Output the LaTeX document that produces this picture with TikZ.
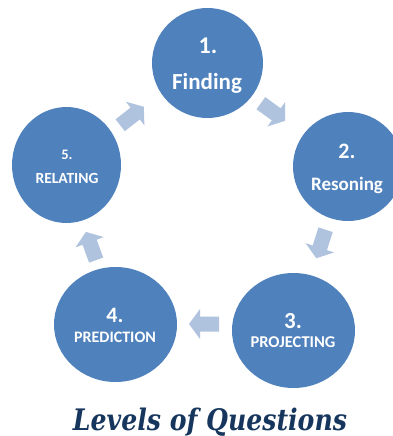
\documentclass[tikz,border=0pt]{standalone}
\usepackage{fontspec}
\setmainfont{Carlito}
\newfontfamily\titlefont{DejaVu Serif}
\usetikzlibrary{shapes.geometric,calc}
\definecolor{circblue}{HTML}{4F81BD}
\definecolor{arrblue}{HTML}{B0C3DE}
\definecolor{titleblue}{HTML}{17365D}
\tikzset{
  stage/.style={ellipse, fill=circblue, draw=none, inner sep=0pt},
  lbl/.style={text=white, font=\bfseries, anchor=base, inner sep=0pt},
}
\newcommand\blockarrow[3]{%
  \fill[arrblue, shift={(#1)}, rotate=#2] (-15,-7.5) -- (4,-7.5) -- (4,-15) -- (15,0) -- (4,15) -- (4,7.5) -- (-15,7.5) -- cycle;
  \coordinate (#3) at (#1);}
\begin{document}
\begin{tikzpicture}[x=1pt,y=-1pt]
\useasboundingbox (0,0) rectangle (393,436);
\begin{scope}
\clip (0,0) rectangle (393,436);
\node[stage, minimum width=111pt, minimum height=110pt] (c1) at (207.5,63) {};
\node[stage, minimum width=110pt, minimum height=109pt] (c2) at (348,166.5) {};
\node[stage, minimum width=123pt, minimum height=115pt] (c3) at (293.5,330.5) {};
\node[stage, minimum width=123pt, minimum height=115pt] (c4) at (115.5,324.5) {};
\node[stage, minimum width=109pt, minimum height=116pt] (c5) at (66.5,165) {};
\end{scope}
% labels
\node[lbl, font=\bfseries\fontsize{24}{24}\selectfont] (t1a) at (208,53) {1.};
\node[lbl, font=\bfseries\fontsize{23}{23}\selectfont] (t1b) at (207,89) {Finding};
\node[lbl, font=\bfseries\fontsize{22}{22}\selectfont] (t2a) at (347,158) {2.};
\node[lbl, font=\bfseries\fontsize{19}{19}\selectfont] (t2b) at (347,190) {Resoning};
\node[lbl, font=\bfseries\fontsize{23}{23}\selectfont] (t3a) at (293,328) {3.};
\node[lbl, font=\bfseries\fontsize{16.5}{16.5}\selectfont] (t3b) at (293,347) {PROJECTING};
\node[lbl, font=\bfseries\fontsize{22}{22}\selectfont] (t4a) at (115,322) {4.};
\node[lbl, font=\bfseries\fontsize{16}{16}\selectfont] (t4b) at (115,342) {PREDICTION};
\node[lbl, font=\bfseries\fontsize{14.5}{14.5}\selectfont] (t5a) at (67,159) {5.};
\node[lbl, font=\bfseries\fontsize{15.5}{15.5}\selectfont] (t5b) at (67,183) {RELATING};
% block arrows
\blockarrow{273,112}{-36}{a12}
\blockarrow{321,244}{-108}{a23}
\blockarrow{204,324}{180}{a34}
\blockarrow{91,246}{110}{a45}
\blockarrow{132,116}{38}{a51}
% title
\node[anchor=base, inner sep=0pt, text=titleblue] (title) at (210,430)
  {\resizebox{274pt}{22.5pt}{\titlefont\bfseries\itshape Levels of Questions}};
\end{tikzpicture}
\end{document}
